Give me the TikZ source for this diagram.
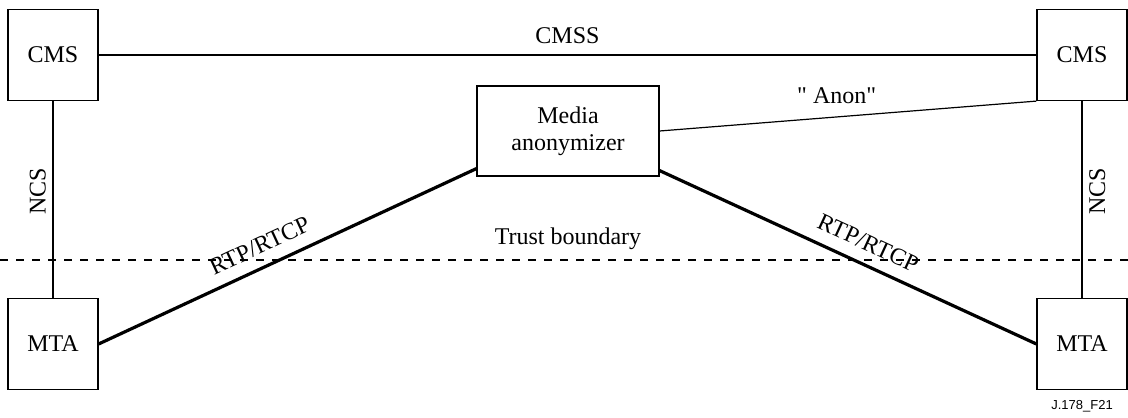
\documentclass[tikz,border=0pt]{standalone}
\usepackage{fontspec}
\setmainfont{Liberation Serif}
\newfontfamily\figfont{Liberation Sans}
\usetikzlibrary{positioning, calc}

\begin{document}
\begin{tikzpicture}[x=0.5pt, y=-0.5pt,
    box/.style={draw, line width=0.6pt, minimum width=45pt, minimum height=45.5pt, inner sep=0pt, font=\fontsize{12}{14}\selectfont},
    link/.style={line width=0.6pt},
    media/.style={line width=1.6pt},
    lbl/.style={font=\fontsize{12}{14}\selectfont}]
    \useasboundingbox (0,0) rectangle (1128,417);

    % Boites des equipements
    \node[box] (cmsL) at (53,55) {CMS};
    \node[box] (cmsR) at (1082,55) {CMS};
    \node[box] (mtaL) at (53,344) {MTA};
    \node[box] (mtaR) at (1082,344) {MTA};
    \node[box, minimum width=91pt, minimum height=45pt, align=center] (anon) at (568,131)
        {Media\\[-0.5pt]anonymizer};

    % Signalisation
    \draw[link] (cmsL) -- (cmsR) node[lbl, midway, above, yshift=2pt] {CMSS};
    \draw[link] (mtaL) -- (cmsL) node[lbl, pos=0.54, above, sloped] {NCS};
    \draw[link] (mtaR) -- (cmsR) node[lbl, pos=0.54, below, sloped] {NCS};
    \draw[link] (anon.east) -- (cmsR.south west)
        node[lbl, pos=0.47, above, yshift=3pt] {\textquotedbl{} Anon\textquotedbl};

    % Flux media
    \draw[media] (mtaL.east) -- ($(anon.south west)+(0,-8)$)
        node[lbl, pos=0.45, above=2.5pt, sloped] {RTP/RTCP};
    \draw[media] ($(anon.south east)+(0,-6)$) -- (mtaR.west)
        node[lbl, pos=0.53, above=2.5pt, sloped] {RTP/RTCP};

    % Limite de confiance
    \coordinate (tbL) at (0,260);
    \coordinate (tbR) at (1128,260);
    \draw[link, dash pattern=on 4pt off 4pt] (tbL) -- (tbR);
    \node[lbl] (trust) at (568,239) {Trust boundary};

    \node[font=\figfont\fontsize{6.5}{8}\selectfont] (fig) at (1082,406) {J.178\_F21};
\end{tikzpicture}
\end{document}
